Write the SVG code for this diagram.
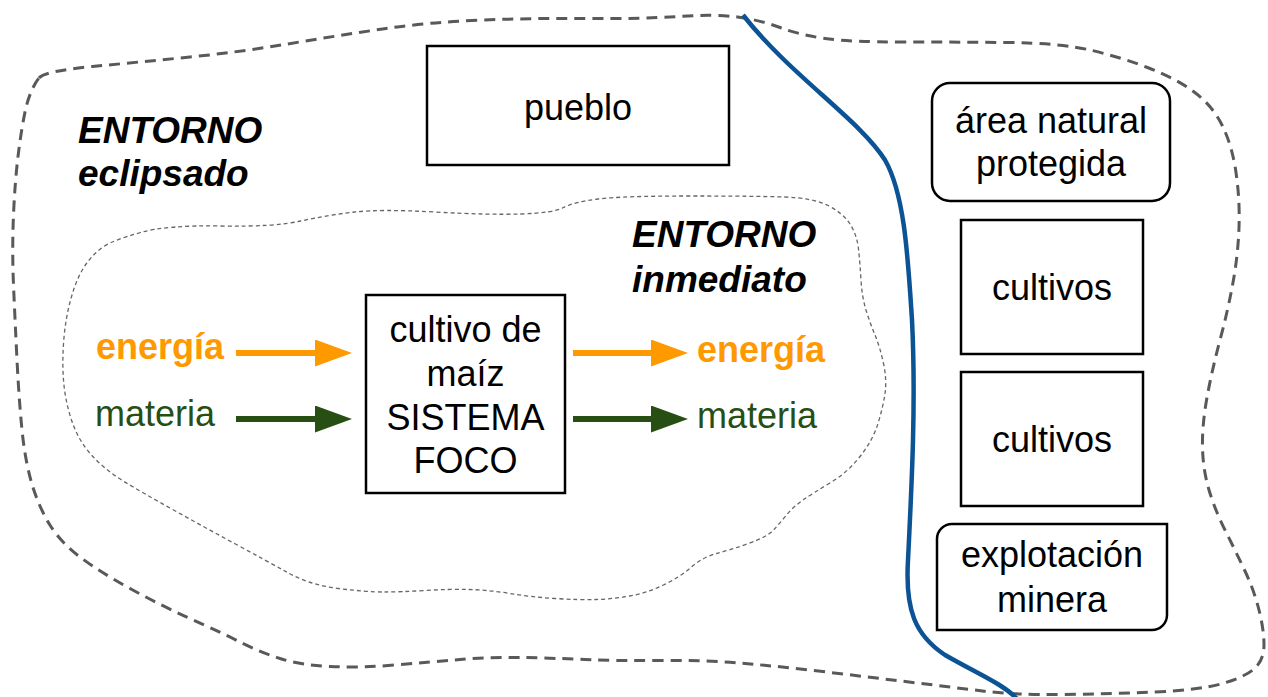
<svg xmlns="http://www.w3.org/2000/svg" width="1268" height="697" viewBox="0 0 1268 697">
<defs>
<style>
text{font-family:"Liberation Sans",Arial,sans-serif;font-size:36px;fill:#000}
.c{text-anchor:middle}
.bi{font-weight:bold;font-style:italic;font-size:37px}
.box{fill:#fff;stroke:#000;stroke-width:2.5}
.or{fill:#ff9900}
.gr{fill:#274e13}
.ob{font-weight:bold}
.outer{fill:none;stroke:#595959;stroke-width:3;stroke-dasharray:11 7}
.inner{fill:none;stroke:#666;stroke-width:1.3;stroke-dasharray:4 3}
.arrO{stroke:#ff9900;stroke-width:6;fill:none}
.arrG{stroke:#274e13;stroke-width:6;fill:none}
</style>
<marker id="hO" markerUnits="userSpaceOnUse" markerWidth="40" markerHeight="30" refX="15" refY="13.5" orient="auto"><path d="M0,0 L37,13.5 L0,27 Z" fill="#ff9900"/></marker>
<marker id="hG" markerUnits="userSpaceOnUse" markerWidth="40" markerHeight="30" refX="15" refY="13.5" orient="auto"><path d="M0,0 L37,13.5 L0,27 Z" fill="#274e13"/></marker>
</defs>
<rect width="1268" height="697" fill="#fff"/>
<g id="entorno-eclipsado">
<path class="outer" d="M39,78 Q45,71 92.5,66.5 Q140,62 190,57 Q240,52 287.5,44 Q335,36 382.5,29 Q430,22 482.5,20 Q535,18 587.5,18.5 Q640,19 677.5,16.5 Q715,14 737.5,17 Q760,20 780,27.5 Q800,35 825,38.5 Q850,42 902.5,42 Q955,42 1007.5,42.5 Q1060,43 1090,50 Q1120,57 1147.5,67.5 Q1175,78 1193.5,91.5 Q1212,105 1222,125 Q1232,145 1236,172.5 Q1240,200 1239,227.5 Q1238,255 1233,282.5 Q1228,310 1220,340 Q1212,370 1207,397.5 Q1202,425 1202.5,447.5 Q1203,470 1209,490 Q1215,510 1225,530 Q1235,550 1244.5,570 Q1254,590 1259,610 Q1264,630 1264,645 Q1264,660 1254.5,668.5 Q1245,677 1222.5,683.5 Q1200,690 1155,692 Q1110,694 1062.5,694.5 Q1015,695 982.5,691 Q950,687 909,682 Q868,677 826.5,672 Q785,667 745,663.5 Q705,660 662.5,660.5 Q620,661 585,659.5 Q550,658 520,657.5 Q490,657 460,659.5 Q430,662 395,665 Q360,668 330,666.5 Q300,665 280,658.5 Q260,652 240,642 Q220,632 190,618.5 Q160,605 130,588.5 Q100,572 80,557 Q60,542 49,523.5 Q38,505 31.5,482.5 Q25,460 22,430 Q19,400 17,360 Q15,320 13.5,285 Q12,250 13.5,215 Q15,180 18.5,152.5 Q22,125 26,107.5 Q31,88 39,78 Z"/>
<text class="bi" x="78" y="143">ENTORNO</text>
<text class="bi" x="78" y="186">eclipsado</text>
</g>
<g id="entorno-inmediato">
<path class="inner" d="M104.5,246 Q114,240 140.5,232.5 Q167,225 220.5,226 Q274,227 301,221 Q328,215 354.5,212 Q381,209 434.5,212 Q488,215 520.5,214 Q553,213 563.5,207.5 Q574,202 598,199 Q622,196 689,196 Q756,196 784.5,197 Q813,198 828,205.5 Q843,213 850,224 Q857,235 858.5,249 Q860,263 861,280 Q862,297 866,310 Q870,323 875,335 Q880,347 883.5,363.5 Q887,380 885,393.5 Q883,407 878,423.5 Q873,440 860,456.5 Q847,473 830,483 Q813,493 803,500 Q793,507 786.5,515 Q780,523 773.5,530 Q767,537 748.5,543.5 Q730,550 716.5,553.5 Q703,557 691.5,567 Q680,577 663.5,585 Q647,593 630,596 Q613,599 596,599.5 Q579,600 555,598.5 Q531,597 510,593.5 Q489,590 469,589.5 Q449,589 424.5,590.5 Q400,592 383.5,592 Q367,592 338.5,588.5 Q310,585 287.5,572.5 Q265,560 234.5,543.5 Q204,527 173.5,510 Q143,493 124,481.5 Q105,470 91.5,455 Q78,440 71.5,420 Q65,400 63.5,380 Q62,360 64,337.5 Q66,315 72,295 Q78,275 86.5,263.5 Q95,252 104.5,246 Z"/>
<text class="bi" x="632" y="247">ENTORNO</text>
<text class="bi" x="632" y="292">inmediato</text>
</g>
<g id="rio">
<path d="M743,15 C790,75 860,120 885,160 C905,195 908,260 912,320 C916,400 912,480 908,560 C905,610 915,635 945,655 C980,675 1005,685 1018,700" fill="none" stroke="#0b5394" stroke-width="4.5"/>
</g>
<g id="pueblo">
<rect class="box" x="427" y="46" width="302" height="119"/>
<text class="c" x="578" y="120">pueblo</text>
</g>
<g id="sistema-foco">
<rect class="box" x="366" y="295" width="199" height="198"/>
<text class="c" x="465.5" y="342">cultivo de</text>
<text class="c" x="465.5" y="386">maíz</text>
<text class="c" x="465.5" y="430">SISTEMA</text>
<text class="c" x="465.5" y="473">FOCO</text>
</g>
<g id="area-natural">
<rect class="box" x="932" y="83" width="238" height="118" rx="18" ry="18"/>
<text class="c" x="1051" y="133">área natural</text>
<text class="c" x="1051" y="176">protegida</text>
</g>
<g id="cultivos-1">
<rect class="box" x="961" y="220" width="182" height="134"/>
<text class="c" x="1052" y="300">cultivos</text>
</g>
<g id="cultivos-2">
<rect class="box" x="961" y="372" width="182" height="134"/>
<text class="c" x="1052" y="452">cultivos</text>
</g>
<g id="explotacion-minera">
<path class="box" d="M952,524 H1167 V615 A15,15 0 0 1 1152,630 H937 V539 A15,15 0 0 1 952,524 Z"/>
<text class="c" x="1052" y="567">explotación</text>
<text class="c" x="1052" y="612">minera</text>
</g>
<g id="labels">
<text class="or ob" x="96" y="359">energía</text>
<text class="gr" x="95" y="426">materia</text>
<text class="or ob" x="697" y="362">energía</text>
<text class="gr" x="697" y="428">materia</text>
</g>
<g id="connectors">
<line class="arrO" x1="236" y1="353" x2="330" y2="353" marker-end="url(#hO)"/>
<line class="arrG" x1="236" y1="419" x2="330" y2="419" marker-end="url(#hG)"/>
<line class="arrO" x1="573" y1="353" x2="666" y2="353" marker-end="url(#hO)"/>
<line class="arrG" x1="573" y1="419" x2="666" y2="419" marker-end="url(#hG)"/>
</g>
</svg>
